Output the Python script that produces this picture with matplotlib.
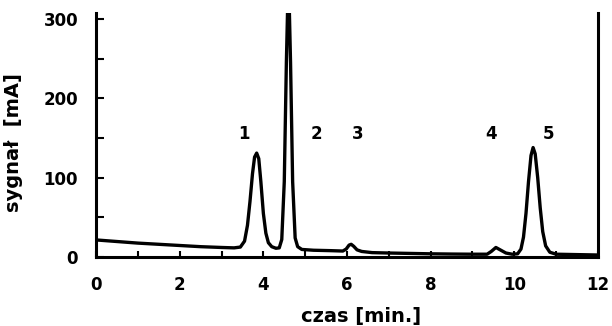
import matplotlib
matplotlib.use("Agg")
import matplotlib.pyplot as plt
from matplotlib.ticker import MultipleLocator

czas = [0.0, 0.5, 1.0, 1.5, 2.0, 2.5, 3.0, 3.3, 3.45,
        3.55, 3.62, 3.68, 3.74, 3.79, 3.84, 3.89, 3.94, 4.00, 4.06, 4.12, 4.20, 4.30, 4.38,
        4.44, 4.50, 4.55, 4.60, 4.65, 4.70, 4.76, 4.82, 4.92,
        5.2, 5.6, 5.9,
        5.98, 6.05, 6.10, 6.16, 6.24, 6.35, 6.6, 7.0, 7.5, 8.0, 8.5, 9.0, 9.35,
        9.45, 9.56, 9.68, 9.80, 9.95, 10.08,
        10.16, 10.22, 10.28, 10.34, 10.40, 10.45, 10.50, 10.56, 10.62, 10.68, 10.75, 10.85,
        11.0, 11.5, 12.0]
sygnal = [21.5, 19.5, 17.5, 16, 14.5, 13, 12, 11.5, 12.5,
          20, 40, 70, 105, 126, 131, 124, 95, 55, 30, 18, 13, 11, 11.5,
          22, 95, 245, 360, 245, 95, 24, 13, 9.5,
          8.5, 8, 7.5,
          10, 15, 16, 13.5, 9, 7, 5.5, 5, 4.5, 4, 3.7, 3.5, 3.5,
          7, 12, 8.5, 5, 3.5, 4,
          10, 25, 55, 95, 128, 138, 130, 100, 62, 32, 14, 6,
          3.5, 3, 2.5]

piki = ["1", "2", "3", "4", "5"]
piki_x = [3.54, 5.26, 6.25, 9.44, 10.83]
piki_y = [155, 155, 155, 155, 155]

plt.rcParams['font.family'] = ['DejaVu Sans']
plt.rcParams['font.weight'] = 'bold'

fig = plt.figure(figsize=(6.12, 3.26), dpi=100)
ax = fig.add_axes([0.157, 0.2117, 0.82, 0.748])

ax.plot(czas, sygnal, color='black', lw=2.4, solid_joinstyle='round')

for t, x, y in zip(piki, piki_x, piki_y):
    ax.text(x, y, t, ha='center', va='center', fontsize=12, fontweight='bold')

ax.set_xlim(0, 12)
ax.set_ylim(0, 307.5)
ax.xaxis.set_major_locator(MultipleLocator(2))
ax.xaxis.set_minor_locator(MultipleLocator(1))
ax.yaxis.set_major_locator(MultipleLocator(100))
ax.yaxis.set_minor_locator(MultipleLocator(50))

ax.spines['top'].set_visible(False)
for s in ['left', 'bottom', 'right']:
    ax.spines[s].set_linewidth(2.2)

ax.tick_params(axis='x', which='both', direction='in', length=4, width=1.5,
               pad=14, labelsize=12)
ax.tick_params(axis='y', which='both', direction='in', length=6, width=1.5,
               pad=13, labelsize=12)

ax.set_xlabel("czas [min.]", fontsize=14, fontweight='bold')
ax.set_ylabel("sygnał  [mA]", fontsize=14, fontweight='bold')
ax.xaxis.set_label_coords(0.529, -0.205)
ax.yaxis.set_label_coords(-0.145, 0.469)

fig.savefig("out.png", dpi=100)
